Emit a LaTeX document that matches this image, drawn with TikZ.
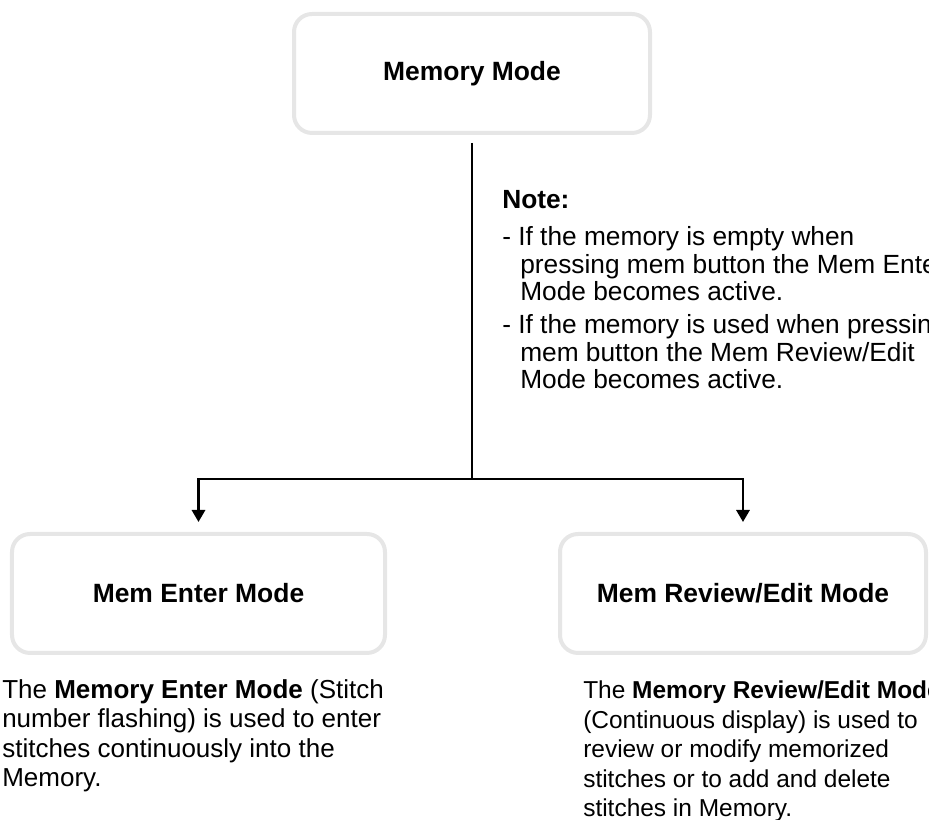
\documentclass[tikz,border=0pt]{standalone}
\usepackage{fontspec}
\setmainfont{Liberation Sans}
\usepackage{tikz}
\usetikzlibrary{arrows.meta, positioning, calc}
\definecolor{mydark}{RGB}{0,0,0}
\definecolor{boxgray}{RGB}{230,230,230}
\tikzset{
  box/.style={rectangle, draw=boxgray, fill=white, line width=0.1cm,
    rounded corners=0.45cm, minimum height=2.975cm, align=center,
    font=\fontsize{18.8}{22}\selectfont\bfseries},
  arrow/.style={-{Triangle[width=0.33cm,length=0.3cm]}, line width=1.8pt,
    color=mydark, shorten >=0.25cm},
  line/.style={line width=1.8pt, color=mydark},
  desc/.style={anchor=base west, align=left, inner sep=0pt,
    font=\fontsize{18.5}{21.1}\selectfont},
  note/.style={anchor=base west, align=left, inner sep=0pt,
    font=\fontsize{18.7}{19.7}\selectfont}
}

\begin{document}
\begin{tikzpicture}
  \path[use as bounding box, clip] (0,0) rectangle (23.225,20.5);

  % Modes
  \node[box, minimum width=8.9cm] (memory) at (11.8,18.6625) {Memory Mode};
  \node[box, minimum width=9.325cm] (enter) at (4.9625,5.6625) {Mem Enter Mode};
  \node[box, minimum width=9.15cm] (review) at (18.575,5.6625) {Mem Review/Edit Mode};

  % Connectors
  \coordinate (split) at (11.8,8.525);
  \draw[line, shorten <=0.2cm] (memory) -- (split);
  \draw[arrow] (split) -| (enter);
  \draw[arrow] (split) -| (review);

  % Note (base = last line)
  \node[note] (note) at (12.55,10.775) {\textbf{Note:}\\[6.5pt]
    - If the memory is empty when\\
    \hspace*{0.45cm}pressing mem button the Mem Enter\\
    \hspace*{0.45cm}Mode becomes active.\\[3.5pt]
    - If the memory is used when pressing\\
    \hspace*{0.45cm}mem button the Mem Review/Edit\\
    \hspace*{0.45cm}Mode becomes active.};

  % Descriptions
  \node[desc] (enterdesc) at (0.05,0.825) {The \textbf{Memory Enter Mode} (Stitch\\
    number flashing) is used to enter\\
    stitches continuously into the\\
    Memory.};
  \node[desc, font=\fontsize{17.4}{21.1}\selectfont] (reviewdesc) at (14.575,0.075)
    {The \textbf{Memory Review/Edit Mode}\\
    (Continuous display) is used to\\
    review or modify memorized\\
    stitches or to add and delete\\
    stitches in Memory.};
\end{tikzpicture}
\end{document}
